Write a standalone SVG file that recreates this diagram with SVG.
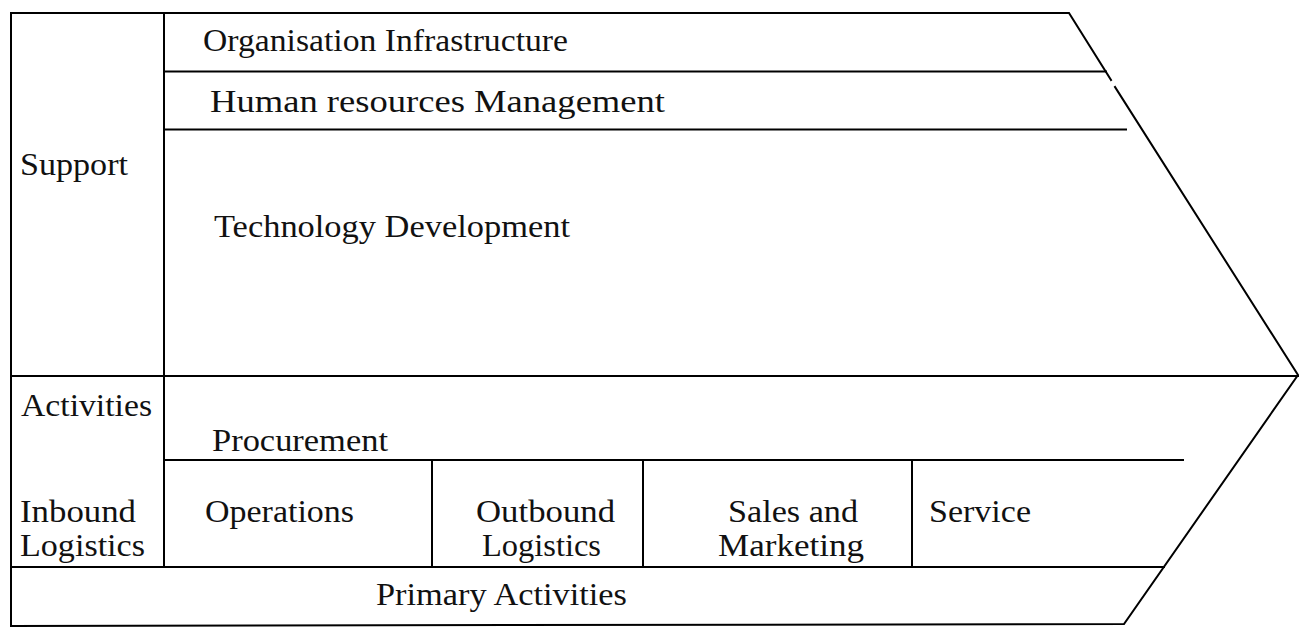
<svg xmlns="http://www.w3.org/2000/svg" width="1303" height="637" viewBox="0 0 1303 637">
<style>
.ln{stroke:#000;stroke-width:2;fill:none;stroke-linecap:square;stroke-linejoin:miter}
text{font-family:"Liberation Serif","Times New Roman",serif;font-size:31px;fill:#111}
</style>
<rect width="1303" height="637" fill="#fff"/>
<g id="frame">
<path class="ln" d="M1111,80 L1069,13 L11,13 L11,626 L1124,624 L1298,375 L1115,87"/>
</g>
<g id="connectors">
<line class="ln" x1="164" y1="71.5" x2="1106" y2="71.5"/>
<line class="ln" x1="164" y1="129.5" x2="1126" y2="129.5"/>
<line class="ln" x1="11" y1="376" x2="1298" y2="376"/>
<line class="ln" x1="164" y1="460" x2="1183" y2="460"/>
<line class="ln" x1="11" y1="567" x2="1164" y2="567"/>
<line class="ln" x1="164" y1="13" x2="164" y2="567"/>
<line class="ln" x1="432" y1="460" x2="432" y2="567"/>
<line class="ln" x1="643" y1="460" x2="643" y2="567"/>
<line class="ln" x1="912" y1="460" x2="912" y2="567"/>
</g>
<g id="org-infra"><text x="203" y="51" textLength="365" lengthAdjust="spacingAndGlyphs">Organisation Infrastructure</text></g>
<g id="hrm"><text x="210" y="112" textLength="455" lengthAdjust="spacingAndGlyphs">Human resources Management</text></g>
<g id="support"><text x="20" y="175" textLength="108" lengthAdjust="spacingAndGlyphs">Support</text><text x="21" y="416" textLength="131" lengthAdjust="spacingAndGlyphs">Activities</text></g>
<g id="tech"><text x="214" y="237" textLength="356" lengthAdjust="spacingAndGlyphs">Technology Development</text></g>
<g id="procurement"><text x="212" y="451" textLength="176" lengthAdjust="spacingAndGlyphs">Procurement</text></g>
<g id="inbound"><text x="20" y="522" textLength="116" lengthAdjust="spacingAndGlyphs">Inbound</text><text x="20" y="556" textLength="125" lengthAdjust="spacingAndGlyphs">Logistics</text></g>
<g id="operations"><text x="205" y="522" textLength="149" lengthAdjust="spacingAndGlyphs">Operations</text></g>
<g id="outbound"><text x="476" y="522" textLength="139" lengthAdjust="spacingAndGlyphs">Outbound</text><text x="482" y="556" textLength="119" lengthAdjust="spacingAndGlyphs">Logistics</text></g>
<g id="sales"><text x="728" y="522" textLength="130" lengthAdjust="spacingAndGlyphs">Sales and</text><text x="718" y="556" textLength="146" lengthAdjust="spacingAndGlyphs">Marketing</text></g>
<g id="service"><text x="929" y="522" textLength="102" lengthAdjust="spacingAndGlyphs">Service</text></g>
<g id="primary"><text x="376" y="605" textLength="251" lengthAdjust="spacingAndGlyphs">Primary Activities</text></g>
</svg>
